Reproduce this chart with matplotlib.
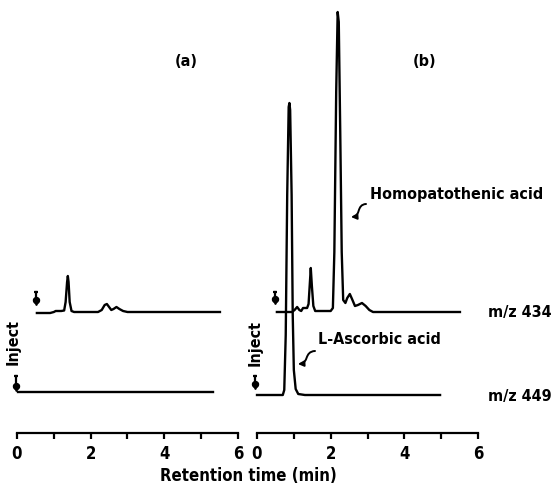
import os
import matplotlib
matplotlib.use("Agg")
import matplotlib.pyplot as plt
from matplotlib import font_manager
from matplotlib.font_manager import FontProperties
from matplotlib.patches import FancyArrowPatch
from matplotlib.path import Path

# ---------------- data ----------------
# panel (a) m/z 434 trace: retention time (min) and signal (arb. units)
a434_t = [0.54, 0.90, 1.00, 1.05, 1.20, 1.28, 1.32, 1.36, 1.38, 1.40, 1.43, 1.48, 1.55,
          2.20, 2.30, 2.38, 2.44, 2.50, 2.56, 2.62, 2.70, 2.78, 2.88, 3.00, 5.51]
a434_v = [-1, -1, 0, 1, 1, 1.5, 10, 30, 36, 30, 10, 1, 0,
          0, 2, 7, 8, 5, 2, 3, 5, 3, 1, 0, 0]
# panel (a) m/z 449 trace
a449_t = [0.03, 5.32]
a449_v = [0, 0]
# panel (b) m/z 434 trace
b434_t = [0.54, 0.95, 1.02, 1.09, 1.15, 1.20, 1.25, 1.36, 1.40, 1.43, 1.46, 1.49, 1.53, 1.58,
          2.00, 2.06, 2.10, 2.15, 2.19, 2.22, 2.26, 2.30, 2.34, 2.40, 2.45, 2.52, 2.58,
          2.66, 2.74, 2.85, 2.95, 3.05, 3.15, 5.51]
b434_v = [0, 0, 2, 5, 2, 1, 4, 4, 8, 26, 44, 26, 6, 1,
          1, 4, 60, 220, 300, 290, 180, 60, 12, 9, 14, 18, 13,
          6, 7, 9, 6, 2, 0, 0]
# panel (b) m/z 449 trace (L-ascorbic acid)
b449_t = [0.00, 0.70, 0.74, 0.78, 0.82, 0.86, 0.88, 0.90, 0.94, 0.97, 1.00, 1.05, 1.12, 1.30, 4.97]
b449_v = [0, 0, 5, 60, 200, 288, 292, 285, 200, 80, 25, 6, 1, 0, 0]

x_ticks = [0, 1, 2, 3, 4, 5, 6]
x_ticklabels = ["0", "", "2", "", "4", "", "6"]
trace_labels = ["m/z 434", "m/z 449"]
peak_labels = ["Homopatothenic acid", "L-Ascorbic acid"]
panel_labels = ["(a)", "(b)"]
xlabel = "Retention time (min)"

# ---------------- fonts ----------------
font_path = None
prefs = ["LiberationSansNarrow-Bold", "DejaVuSansCondensed-Bold", "RobotoCondensed-Bold",
         "OpenSans_Condensed-Bold", "OpenSansCondensed-Bold"]
files = [f.fname for f in font_manager.fontManager.ttflist]
for p in prefs:
    for fn in files:
        if os.path.splitext(os.path.basename(fn))[0].replace(" ", "") == p:
            font_path = fn
            break
    if font_path:
        break
if font_path is None:
    for fn in files:
        b = os.path.basename(fn).lower()
        if ("condensed" in b or "narrow" in b) and "bold" in b and "italic" not in b and "oblique" not in b:
            font_path = fn
            break


def fp(size):
    if font_path:
        return FontProperties(fname=font_path, size=size)
    return FontProperties(family="DejaVu Sans", weight="bold", size=size, stretch="condensed")


W, H = 552, 485
fig = plt.figure(figsize=(W / 100, H / 100), dpi=100)

ppm = 221 / 6.0          # pixels per minute
xlim = (-0.4, 6.4)
axw = (xlim[1] - xlim[0]) * ppm
ybottom_px = 434


def make_ax(zero_px):
    left = zero_px + xlim[0] * ppm
    ax = fig.add_axes([left / W, (H - ybottom_px) / H, axw / W, ybottom_px / H])
    ax.set_xlim(*xlim)
    ax.set_ylim(0, ybottom_px)
    ax.patch.set_alpha(0)
    for s in ("top", "right", "left"):
        ax.spines[s].set_visible(False)
    ax.spines["bottom"].set_bounds(0, 6)
    ax.spines["bottom"].set_linewidth(1.6)
    ax.set_yticks([])
    ax.set_xticks(x_ticks)
    ax.set_xticklabels(x_ticklabels)
    for lab in ax.get_xticklabels():
        lab.set_fontproperties(fp(12))
    ax.tick_params(axis="x", direction="out", length=4, width=1.6, pad=4)
    return ax


axa = make_ax(17)
axb = make_ax(257)

LW = 1.7
off434 = 121
off_a449 = 41
off_b449 = 38

axa.plot(a434_t, [v + off434 for v in a434_v], color="black", lw=LW)
axa.plot(a449_t, [v + off_a449 for v in a449_v], color="black", lw=LW)
axb.plot(b434_t, [v + off434 for v in b434_v], color="black", lw=LW)
axb.plot(b449_t, [v + off_b449 for v in b449_v], color="black", lw=LW)


def inject_arrow(ax, t, ytop, ytip):
    ax.plot([t, t], [ytop, ytip + 4], color="black", lw=1.6)
    ax.plot([t], [ytop], marker="_", ms=3.5, mew=1.6, color="black")
    ax.plot([t], [ytip + 4], marker="o", ms=4.3, color="black")
    ax.plot([t], [ytip + 2], marker="v", ms=4.3, color="black")


inject_arrow(axa, 0.52, 141, 129)
inject_arrow(axa, -0.03, 57, 43)
inject_arrow(axb, 0.49, 141, 130)
inject_arrow(axb, -0.05, 57, 45)

fs = 11.5
axa.text(-0.11, 92, "Inject", rotation=90, ha="center", va="center", fontproperties=fp(fs))
axb.text(-0.05, 91, "Inject", rotation=90, ha="center", va="center", fontproperties=fp(fs))

axa.text(4.59, 372, panel_labels[0], ha="center", va="center", fontproperties=fp(fs))
axb.text(4.56, 372, panel_labels[1], ha="center", va="center", fontproperties=fp(fs))

axb.text(6.27, 122, trace_labels[0], ha="left", va="center", fontproperties=fp(fs), clip_on=False)
axb.text(6.27, 37, trace_labels[1], ha="left", va="center", fontproperties=fp(fs), clip_on=False)

axb.text(3.07, 239, peak_labels[0], ha="left", va="center", fontproperties=fp(fs))
axb.text(1.66, 95, peak_labels[1], ha="left", va="center", fontproperties=fp(fs))


def squiggle(ax, start, end):
    (x0, y0), (x1, y1) = start, end
    dx, dy = x1 - x0, y1 - y0
    verts = [(x0, y0),
             (x0 + 0.65 * dx, y0 + 0.05 * dy),
             (x0 + 0.35 * dx, y0 + 0.95 * dy),
             (x1, y1)]
    path = Path(verts, [Path.MOVETO, Path.CURVE4, Path.CURVE4, Path.CURVE4])
    arr = FancyArrowPatch(path=path, arrowstyle="-|>", color="black", lw=1.4,
                          mutation_scale=8, transform=ax.transData)
    ax.add_patch(arr)


squiggle(axb, (2.96, 229), (2.55, 216))
squiggle(axb, (1.575, 82), (1.11, 69))

fig.text(248 / W, (H - 476) / H, xlabel, ha="center", va="center", fontproperties=fp(12))

fig.savefig("out.png", dpi=100, facecolor="white")
